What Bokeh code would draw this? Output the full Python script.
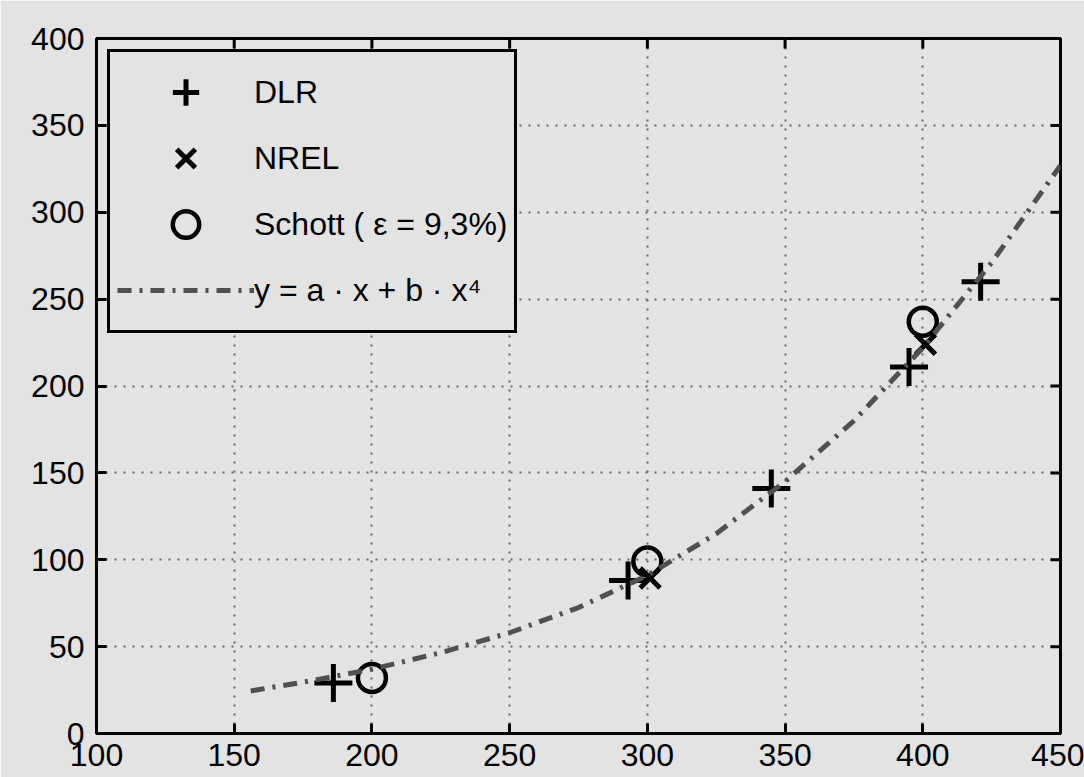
import math
from bokeh.plotting import figure
from bokeh.models import Range1d, FixedTicker, Legend, LegendItem
from bokeh.embed import file_html
from bokeh.resources import INLINE

# ---- data ----
x_ticks = [100, 150, 200, 250, 300, 350, 400, 450]
y_ticks = [0, 50, 100, 150, 200, 250, 300, 350, 400]

dlr_x = [186, 293, 345, 395, 421]
dlr_y = [29, 88, 141, 211, 260]

nrel_x = [301, 401]
nrel_y = [89.5, 224]

schott_x = [200, 300, 400]
schott_y = [32, 99, 237]

fit_x = [156, 175, 200, 225, 250, 275, 300, 325, 350, 375, 400, 425, 450]
fit_y = [24.5, 29.5, 37, 46.5, 58, 72.5, 91, 115, 145, 180, 222, 271, 327]

labels = ["DLR", "NREL", "Schott ( \u03b5 = 9,3%)", "y = a \u00b7 x + b \u00b7 x\u2074"]

# ---- styling ----
BG = "#e3e3e3"
FONT = "Liberation Sans"

p = figure(width=1084, height=777,
           x_range=Range1d(100, 450), y_range=Range1d(0, 400),
           output_backend="svg", toolbar_location=None,
           background_fill_color=BG, border_fill_color=BG,
           min_border_left=96, min_border_right=24,
           min_border_top=38, min_border_bottom=44,
           outline_line_color="black", outline_line_width=3)

def style_axis(ax, ticks, standoff):
    ax.ticker = FixedTicker(ticks=ticks)
    ax.axis_line_color = "black"
    ax.axis_line_width = 3
    ax.major_tick_line_color = "black"
    ax.major_tick_line_width = 3
    ax.major_tick_in = 10
    ax.major_tick_out = 0
    ax.minor_tick_line_color = None
    ax.major_label_text_font = FONT
    ax.major_label_text_color = "#000000"
    ax.major_label_text_font_size = "32px"
    ax.major_label_standoff = standoff

style_axis(p.xaxis[0], x_ticks, 10)
style_axis(p.yaxis[0], y_ticks, 12)

p.xgrid.ticker = FixedTicker(ticks=x_ticks)
p.ygrid.ticker = FixedTicker(ticks=y_ticks)
for g in (p.xgrid[0], p.ygrid[0]):
    g.grid_line_color = "#666666"
    g.grid_line_width = 2
    g.grid_line_dash = "2 7"

# inward ticks on the top and right edges of the frame (clipped to the frame)
p.scatter(x_ticks[1:-1], [y_ticks[-1]] * (len(x_ticks) - 2), marker="dash",
          angle=math.pi / 2, size=20, line_color="black", line_width=3)
p.scatter([x_ticks[-1]] * (len(y_ticks) - 2), y_ticks[1:-1], marker="dash",
          size=20, line_color="black", line_width=3)

r_dlr = p.scatter(dlr_x, dlr_y, marker="cross", size=38,
                  line_color="black", line_width=5)
r_nrel = p.scatter(nrel_x, nrel_y, marker="x", size=28,
                   line_color="black", line_width=5)
r_sch = p.scatter(schott_x, schott_y, marker="circle", size=28,
                  fill_color=None, line_color="black", line_width=4.5)
r_fit = p.line(fit_x, fit_y, line_color="#505050", line_width=5,
               line_dash="14 8 3 8")

legend = Legend(items=[LegendItem(label=labels[0], renderers=[r_dlr]),
                       LegendItem(label=labels[1], renderers=[r_nrel]),
                       LegendItem(label=labels[2], renderers=[r_sch]),
                       LegendItem(label=labels[3], renderers=[r_fit])],
                location="top_left", margin=11,
                padding=7, spacing=-3,
                glyph_width=137, glyph_height=66, label_height=40,
                label_standoff=0,
                label_text_font=FONT, label_text_font_size="32px",
                label_text_color="#000000",
                border_line_color="black", border_line_width=3,
                border_line_alpha=1.0,
                background_fill_color=BG, background_fill_alpha=1.0)
p.add_layout(legend)

open("out.html", "w").write(file_html(p, INLINE))
